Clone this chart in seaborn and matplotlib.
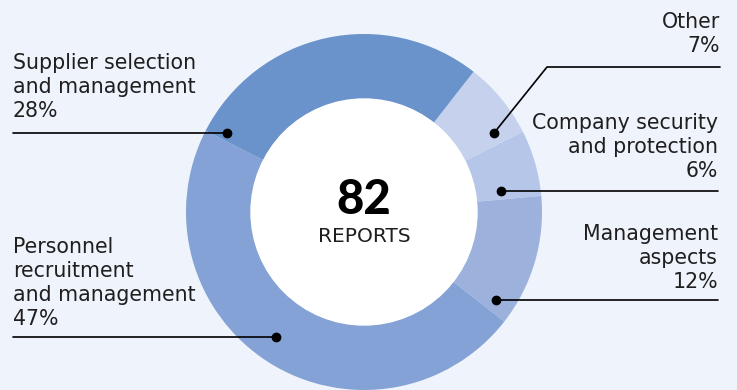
import numpy as np
import seaborn as sns
import matplotlib.pyplot as plt
from matplotlib.patches import Circle

# data
categories = ['Other', 'Company security\nand protection', 'Management\naspects',
              'Personnel\nrecruitment\nand management', 'Supplier selection\nand management']
shares = [7, 6, 12, 47, 28]
colors = ['#c6d2ed', '#b6c6e8', '#9cb2dd', '#84a2d5', '#6a93cb']
total_reports = 82

sns.set_theme(style='white')
plt.rcParams['font.family'] = ['DejaVu Sans']
bg = '#eff3fb'
ink = '#1f1f1f'

fig = plt.figure(figsize=(7.37, 3.9), dpi=100, facecolor=bg)
ax = fig.add_axes([0, 0, 1, 1])
ax.set_facecolor(bg)

H = 390
cx, cy = 364, H - 212
r_out, r_in = 178, 113

ax.pie(shares, colors=colors, startangle=52, counterclock=False,
       center=(cx, cy), radius=r_out,
       wedgeprops=dict(width=r_out - r_in, linewidth=0))
ax.add_patch(Circle((cx, cy), r_in, color='white', zorder=3))

ax.set_xlim(0, 737)
ax.set_ylim(0, H)
ax.set_aspect('equal')
ax.axis('off')

# centre text
ax.text(cx, H - 214, str(total_reports), ha='center', va='baseline',
        fontsize=34, fontweight=900, color='black', zorder=4,
        family=['Lato', 'DejaVu Sans'])
ax.text(cx, H - 242, 'REPORTS', ha='center', va='baseline',
        fontsize=14.5, color=ink, zorder=4)

# labels: (text x, text baseline y, ha, line points, dot)
label_layout = [
    (720, 52, 'right', [(720, 67), (547, 67), (494, 133)]),
    (718, 177, 'right', [(718, 191), (501, 191)]),
    (718, 288, 'right', [(718, 300), (496, 300)]),
    (13, 325, 'left', [(13, 337), (276, 337)]),
    (13, 117, 'left', [(13, 133), (227, 133)]),
]

for cat, val, (tx, ty, ha, pts) in zip(categories, shares, label_layout):
    ax.text(tx, H - ty, f'{cat}\n{val}%', ha=ha, va='baseline', fontsize=14.8,
            color=ink, linespacing=1.25, multialignment=ha, zorder=4)
    xs = [p[0] for p in pts]
    ys = [H - p[1] for p in pts]
    ax.plot(xs, ys, color='black', lw=1.2, zorder=5)
    ax.plot(xs[-1], ys[-1], 'o', color='black', ms=6, zorder=6)

fig.savefig('out.png', dpi=100, facecolor=bg)
